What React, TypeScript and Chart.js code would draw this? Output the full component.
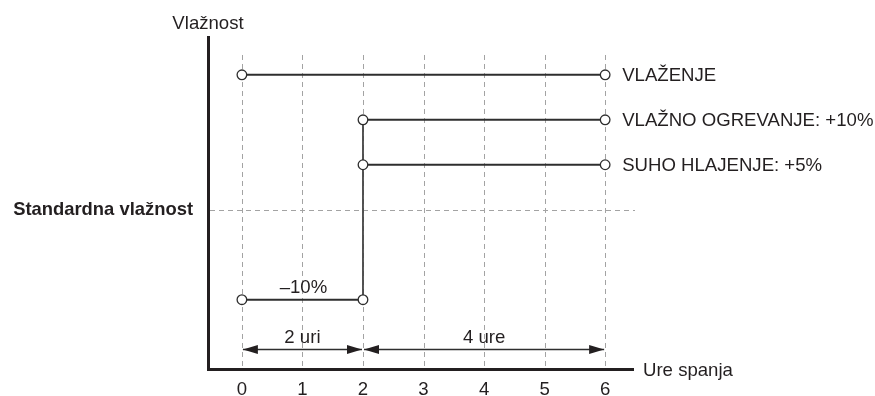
import React, { useEffect, useRef } from 'react';
import { Chart, registerables } from 'chart.js';

Chart.register(...registerables);

// ---- data ----
const HOURS = [0, 1, 2, 3, 4, 5, 6];
const HUMIDIFY_X = [0, 6];
const HUMIDIFY_Y = [15, 15];
const LOW_X = [0, 2];
const LOW_Y = [-10, -10];
const STEP_X = [2, 2];
const STEP_Y = [-10, 10];
const WARM_X = [2, 6];
const WARM_Y = [10, 10];
const COOL_X = [2, 6];
const COOL_Y = [5, 5];
const STANDARD_LEVEL = 0;
const SERIES_LABELS = ['VLAŽENJE', 'VLAŽNO OGREVANJE: +10%', 'SUHO HLAJENJE: +5%'];
const SERIES_LEVELS = [15, 10, 5];
const SERIES_END = [6, 6, 6];
const LOW_LABEL = '–10%';
const LOW_LABEL_X = 1;
const LOW_LABEL_Y = -10;
const SPAN_LABELS = ['2 uri', '4 ure'];
const SPAN_LABEL_X = [1, 4];
const SPAN_FROM = [0, 2];
const SPAN_TO = [2, 6];
const SPAN_LEVEL = -15.5;
const GRID_TOP = 17.2;
const X_MIN = -0.56;
const X_MAX = 6.46;
const Y_MIN = -17.7;
const Y_MAX = 19.2;
const Y_TITLE = 'Vlažnost';
const X_TITLE = 'Ure spanja';
const STANDARD_LABEL = 'Standardna vlažnost';

// ---- styles ----
const FONT_FAMILY = '"Liberation Sans", Arial, Helvetica, sans-serif';
const FONT_SIZE = 18.6;
const TEXT = '#231f20';
const LINE = '#2e2e2e';
const GRID = '#a3a3a3';

const pts = (xs: number[], ys: number[]) => xs.map((x, i) => ({ x, y: ys[i] }));

const annotate = {
  id: 'annotate',
  beforeDatasetsDraw(chart: any) {
    const { ctx, chartArea, scales } = chart;
    const x = scales.x;
    const y = scales.y;
    ctx.save();
    ctx.strokeStyle = GRID;
    ctx.lineWidth = 1;
    ctx.setLineDash([5, 4]);
    HOURS.forEach((h) => {
      const px = Math.round(x.getPixelForValue(h)) + 0.5;
      ctx.beginPath();
      ctx.moveTo(px, y.getPixelForValue(GRID_TOP));
      ctx.lineTo(px, chartArea.bottom);
      ctx.stroke();
    });
    const py = Math.round(y.getPixelForValue(STANDARD_LEVEL)) + 0.5;
    ctx.beginPath();
    ctx.moveTo(chartArea.left + 2, py);
    ctx.lineTo(chartArea.right + 2, py);
    ctx.stroke();
    ctx.restore();
  },
  afterDraw(chart: any) {
    const { ctx, chartArea, scales } = chart;
    const x = scales.x;
    const y = scales.y;
    ctx.save();
    // arrows
    ctx.strokeStyle = LINE;
    ctx.fillStyle = TEXT;
    ctx.lineWidth = 1.5;
    const ay = Math.round(y.getPixelForValue(SPAN_LEVEL)) + 0.5;
    const head = (tip: number, dir: number) => {
      ctx.beginPath();
      ctx.moveTo(tip, ay);
      ctx.lineTo(tip - dir * 15, ay - 4.5);
      ctx.lineTo(tip - dir * 15, ay + 4.5);
      ctx.closePath();
      ctx.fill();
    };
    SPAN_FROM.forEach((f, i) => {
      const x1 = x.getPixelForValue(f) + 1;
      const x2 = x.getPixelForValue(SPAN_TO[i]) - 1;
      ctx.beginPath();
      ctx.moveTo(x1, ay);
      ctx.lineTo(x2, ay);
      ctx.stroke();
      head(x1, -1);
      head(x2, 1);
    });
    // texts
    ctx.font = `${FONT_SIZE}px ${FONT_FAMILY}`;
    ctx.fillStyle = TEXT;
    ctx.textBaseline = 'alphabetic';
    ctx.textAlign = 'center';
    ctx.fillText(Y_TITLE, chartArea.left, 28.5);
    SPAN_LABELS.forEach((t, i) => {
      ctx.fillText(t, x.getPixelForValue(SPAN_LABEL_X[i]), ay - 6.5);
    });
    ctx.fillText(LOW_LABEL, x.getPixelForValue(LOW_LABEL_X) + 1, y.getPixelForValue(LOW_LABEL_Y) - 7);
    ctx.textAlign = 'left';
    SERIES_LABELS.forEach((t, i) => {
      ctx.fillText(t, x.getPixelForValue(SERIES_END[i]) + 17, y.getPixelForValue(SERIES_LEVELS[i]) + 6.5);
    });
    ctx.fillText(X_TITLE, chartArea.right + 10, chartArea.bottom + 7);
    ctx.restore();
  },
};

export default function App() {
  const ref = useRef<HTMLCanvasElement | null>(null);

  useEffect(() => {
    if (!ref.current) return;
    const lineStyle = {
      borderColor: LINE,
      borderWidth: 2,
      pointRadius: 4.8,
      pointBackgroundColor: '#ffffff',
      pointBorderColor: LINE,
      pointBorderWidth: 1.3,
      fill: false,
      tension: 0,
    };
    const chart = new Chart(ref.current, {
      type: 'line',
      data: {
        datasets: [
          { label: SERIES_LABELS[0], data: pts(HUMIDIFY_X, HUMIDIFY_Y), ...lineStyle },
          { label: SERIES_LABELS[1], data: pts(WARM_X, WARM_Y), ...lineStyle },
          { label: SERIES_LABELS[2], data: pts(COOL_X, COOL_Y), ...lineStyle },
          { label: LOW_LABEL, data: pts(LOW_X, LOW_Y), ...lineStyle },
          { label: 'step', data: pts(STEP_X, STEP_Y), ...lineStyle, borderColor: '#444', borderWidth: 1.8, pointRadius: 0 },
        ],
      },
      options: {
        animation: false,
        responsive: false,
        events: [],
        layout: { padding: { top: 37, right: 242, bottom: 0, left: 0 } },
        plugins: {
          legend: { display: false },
          tooltip: { enabled: false },
          title: { display: false },
        },
        scales: {
          x: {
            type: 'linear',
            min: X_MIN,
            max: X_MAX,
            afterBuildTicks: (s: any) => {
              s.ticks = HOURS.map((v) => ({ value: v }));
            },
            afterFit: (s: any) => {
              s.height = 27;
            },
            grid: { display: false, drawTicks: false },
            border: { display: true, color: TEXT, width: 3 },
            ticks: {
              padding: 10,
              color: TEXT,
              maxRotation: 0,
              autoSkip: false,
              font: { family: FONT_FAMILY, size: FONT_SIZE },
            },
          },
          y: {
            type: 'linear',
            min: Y_MIN,
            max: Y_MAX,
            afterBuildTicks: (s: any) => {
              s.ticks = [{ value: STANDARD_LEVEL }];
            },
            afterFit: (s: any) => {
              s.width = 208;
            },
            grid: { display: false, drawTicks: false },
            border: { display: true, color: TEXT, width: 3 },
            ticks: {
              padding: 15,
              color: TEXT,
              callback: () => STANDARD_LABEL,
              font: { family: FONT_FAMILY, size: 18.4, weight: 'bold' },
            },
          },
        },
      },
      plugins: [annotate],
    } as any);
    return () => chart.destroy();
  }, []);

  return (
    <div style={{ position: 'absolute', left: 0, top: 0, width: 875, height: 396, background: '#fff' }}>
      <canvas ref={ref} width={875} height={396} style={{ display: 'block' }} />
    </div>
  );
}
